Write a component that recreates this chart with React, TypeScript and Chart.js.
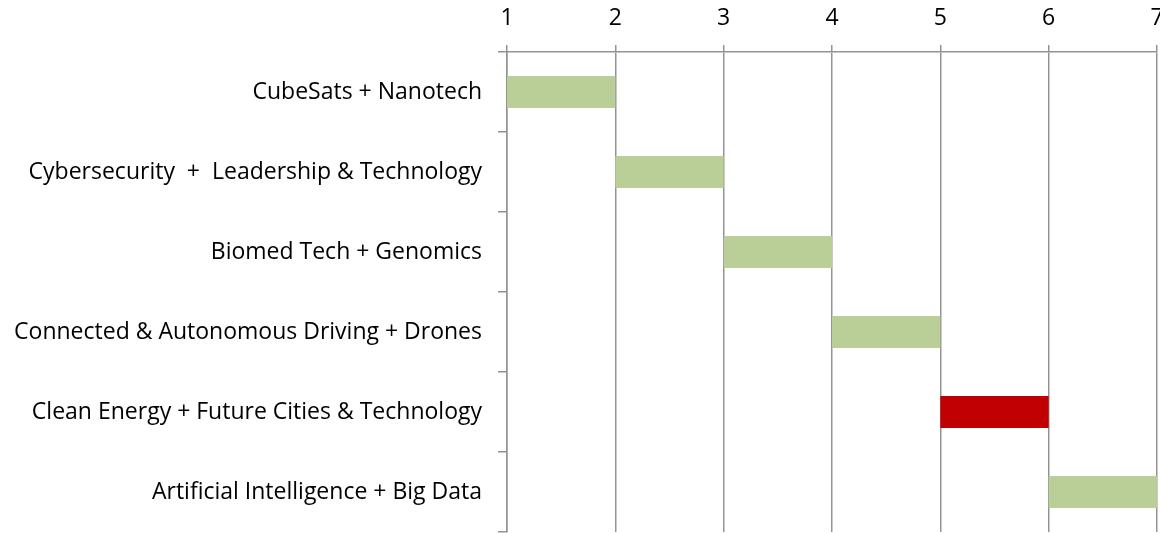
import React, { useEffect, useRef } from "react";
import { Chart, registerables } from "chart.js";

Chart.register(...registerables);

const categories = [
  "CubeSats + Nanotech",
  "Cybersecurity  +  Leadership & Technology",
  "Biomed Tech + Genomics",
  "Connected & Autonomous Driving + Drones",
  "Clean Energy + Future Cities & Technology",
  "Artificial Intelligence + Big Data",
];
const startValues = [1, 2, 3, 4, 5, 6];
const endValues = [2, 3, 4, 5, 6, 7];
const barColors = ["#BACE97", "#BACE97", "#BACE97", "#BACE97", "#C00000", "#BACE97"];
const xTicks = [1, 2, 3, 4, 5, 6, 7];

export default function App() {
  const ref = useRef<HTMLCanvasElement | null>(null);
  useEffect(() => {
    document.body.style.margin = "0";
    const ctx = ref.current!;
    const grid = "#939393";
    const font = { family: "Open Sans", size: 23 };
    const chart = new Chart(ctx, {
      type: "bar",
      data: {
        labels: categories,
        datasets: [
          {
            data: startValues.map((s, i) => [s, endValues[i]]) as any,
            backgroundColor: barColors,
            borderWidth: 0,
            barPercentage: 0.4,
            categoryPercentage: 1,
          },
        ],
      },
      options: {
        indexAxis: "y",
        animation: false,
        responsive: false,
        maintainAspectRatio: false,
        layout: { padding: { right: 3, bottom: 1, top: 0, left: 0 } },
        plugins: { legend: { display: false }, tooltip: { enabled: false } },
        scales: {
          x: {
            position: "top",
            min: 1,
            max: 7,
            afterBuildTicks: (scale: any) => {
              scale.ticks = xTicks.map((v) => ({ value: v }));
            },
            afterFit: (scale: any) => {
              scale.height = 52;
              scale.paddingLeft = 0;
              scale.paddingRight = 0;
            },
            ticks: { color: "#000", font, padding: 13, maxRotation: 0 },
            grid: { color: grid, lineWidth: 1.5, tickLength: 7 },
            border: { color: grid, width: 1.5 },
          },
          y: {
            type: "category",
            offset: true,
            afterFit: (scale: any) => {
              scale.width = 507;
              scale.paddingTop = 0;
              scale.paddingBottom = 0;
            },
            ticks: { color: "#000", font, padding: 16 },
            grid: { offset: true, drawOnChartArea: false, color: grid, lineWidth: 1.5, tickLength: 9 },
            border: { color: grid, width: 1.5 },
          },
        },
      },
    });
    return () => chart.destroy();
  }, []);
  return <canvas ref={ref} width={1160} height={533} style={{ display: "block" }} />;
}
